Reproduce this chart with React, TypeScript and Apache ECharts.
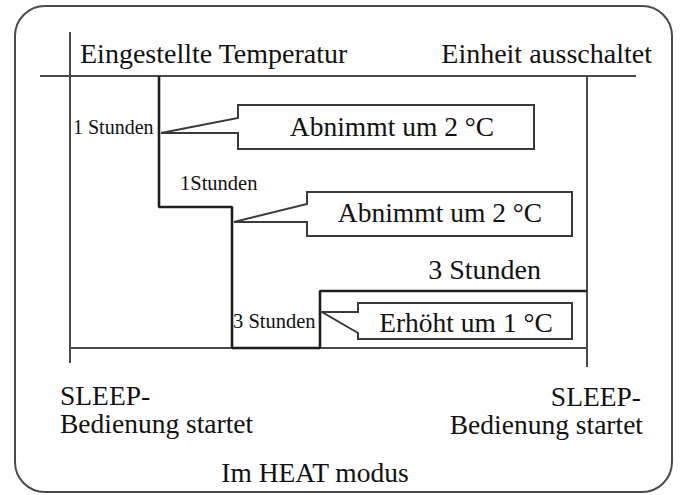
import React, { useEffect, useRef } from "react";
import * as echarts from "echarts";

// Diagram units (schematic time on x, temperature level on y, 0 at top)
const axisSegments: number[][][] = [
  [[40, 76], [636, 76]],
  [[70, 32], [70, 363]],
  [[587, 77], [587, 367]],
  [[70, 348], [587, 348]],
];

const stepX = [159, 159, 232, 232, 320, 320, 587];
const stepY = [76, 207, 207, 348, 348, 291, 291];

const calloutTexts = ["Abnimmt um 2 °C", "Abnimmt um 2 °C", "Erhöht um 1 °C"];
const calloutCenters = [[392, 126], [440, 212], [466, 322]];
const calloutShapes: number[][][] = [
  [[238, 105], [534, 105], [534, 149], [238, 149], [238, 133], [161, 133], [238, 118]],
  [[307, 192], [572, 192], [572, 236], [307, 236], [307, 222], [234, 222], [307, 204]],
  [[358, 303], [572, 303], [572, 339], [358, 339], [358, 333], [322, 312], [358, 312]],
];

const labelTexts = [
  "Eingestellte Temperatur",
  "Einheit ausschaltet",
  "1 Stunden",
  "1Stunden",
  "3 Stunden",
  "3 Stunden",
  "SLEEP-",
  "Bedienung startet",
  "SLEEP-",
  "Bedienung startet",
  "Im HEAT modus",
];
const labelPos = [
  [80, 53], [652, 53], [73, 127], [180, 183], [233, 321], [541, 269],
  [60, 395], [60, 423], [641, 396], [643, 424], [315, 472],
];
const labelAlign = ["left", "right", "left", "left", "left", "right", "left", "left", "right", "right", "center"];
const labelSize = [28, 28, 20, 20.5, 20.5, 28, 27.5, 27.5, 27.5, 27.5, 27.5];

const FONT = "'Liberation Serif', 'Times New Roman', serif";

export default function App() {
  const ref = useRef<HTMLDivElement>(null);
  useEffect(() => {
    document.body.style.margin = "0";
    if (!ref.current) return;
    const chart = echarts.init(ref.current, null, { renderer: "svg" });
    const series: any[] = [];
    axisSegments.forEach((seg) => {
      series.push({
        type: "line",
        data: seg,
        symbol: "none",
        silent: true,
        lineStyle: { color: "#4a4a4a", width: 2 },
        z: 2,
      });
    });
    series.push({
      type: "line",
      data: stepX.map((x, i) => [x, stepY[i]]),
      symbol: "none",
      silent: true,
      lineStyle: { color: "#1e1e1e", width: 2.6 },
      z: 3,
    });
    series.push({
      type: "custom",
      data: calloutCenters,
      encode: { x: 0, y: 1 },
      clip: false,
      silent: true,
      z: 4,
      renderItem: (params: any, api: any) => {
        const i = params.dataIndex;
        const pts = calloutShapes[i].map((p) => api.coord(p));
        const c = api.coord(calloutCenters[i]);
        return {
          type: "group",
          children: [
            {
              type: "polygon",
              shape: { points: pts },
              style: { fill: "#fff", stroke: "#3a3a3a", lineWidth: 2 },
            },
            {
              type: "text",
              style: {
                text: calloutTexts[i],
                x: c[0],
                y: c[1],
                align: "center",
                verticalAlign: "middle",
                fontSize: 27.5,
                fontFamily: FONT,
                fill: "#111",
              },
            },
          ],
        };
      },
    });
    series.push({
      type: "custom",
      data: labelPos,
      encode: { x: 0, y: 1 },
      clip: false,
      silent: true,
      z: 5,
      renderItem: (params: any, api: any) => {
        const i = params.dataIndex;
        const c = api.coord(labelPos[i]);
        return {
          type: "text",
          style: {
            text: labelTexts[i],
            x: c[0],
            y: c[1],
            align: labelAlign[i],
            verticalAlign: "middle",
            fontSize: labelSize[i],
            fontFamily: FONT,
            fill: "#111",
          },
        };
      },
    });
    chart.setOption({
      animation: false,
      backgroundColor: "#fff",
      grid: { left: 0, right: 0, top: 0, bottom: 0 },
      xAxis: { type: "value", min: 0, max: 680, show: false },
      yAxis: { type: "value", min: 0, max: 495, inverse: true, show: false },
      graphic: [
        {
          type: "rect",
          z: 0,
          shape: { x: 15, y: 6, width: 657, height: 486, r: 30 },
          style: { fill: "none", stroke: "#4a4a4a", lineWidth: 2 },
        },
      ],
      series,
    });
    return () => chart.dispose();
  }, []);
  return <div ref={ref} style={{ width: 680, height: 495 }} />;
}
